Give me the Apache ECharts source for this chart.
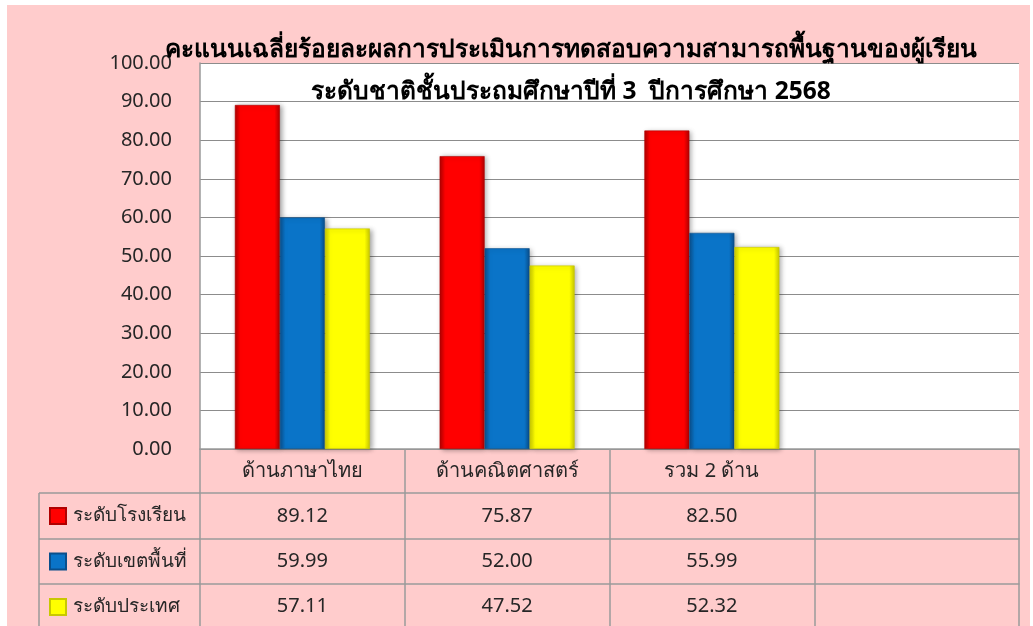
<!DOCTYPE html>
<html>
<head>
<meta charset="utf-8">
<script src="https://cdn.jsdelivr.net/npm/echarts@6/dist/echarts.min.js"></script>
<style>
  html, body { margin: 0; padding: 0; background: #fff; }
  #bg { position: absolute; left: 7px; top: 5px; width: 1023px; height: 621px; background: #ffcccc; }
  #main { position: absolute; left: 0; top: 0; width: 1033px; height: 626px; }
</style>
</head>
<body>
<div id="bg"></div>
<div id="main"></div>
<script>
const categories = ['ด้านภาษาไทย', 'ด้านคณิตศาสตร์', 'รวม 2 ด้าน', ''];
const seriesNames = ['ระดับโรงเรียน', 'ระดับเขตพื้นที่', 'ระดับประเทศ'];
const schoolScores = [89.12, 75.87, 82.50, null];
const areaScores = [59.99, 52.00, 55.99, null];
const nationScores = [57.11, 47.52, 52.32, null];
const yMin = 0, yMax = 100, yStep = 10;

const FONT = "'Noto Sans', 'DejaVu Sans', sans-serif";
const TXT = '#262626';
const LINE = '#9a9a9a';

// colour per series: [edge, face]
const barColors = [
  ['#b00000', '#ff0000'],
  ['#0a4f8c', '#0a74c8'],
  ['#c8c800', '#ffff00']
];

function fmt(v) {
  return v == null ? '' : v.toFixed(2);
}

function grad(c) {
  return new echarts.graphic.LinearGradient(0, 0, 1, 0, [
    { offset: 0, color: c[0] },
    { offset: 0.12, color: c[1] },
    { offset: 0.88, color: c[1] },
    { offset: 1, color: c[0] }
  ]);
}

// one extra x axis per table row, hung under the plot
function rowAxis(values, offset, rowH) {
  return {
    type: 'category',
    gridIndex: 0,
    position: 'bottom',
    offset: offset,
    data: values.map(fmt),
    axisLine: { show: true, onZero: false, lineStyle: { color: LINE, width: 1.5 } },
    axisTick: { show: true, interval: 0, length: rowH, lineStyle: { color: LINE, width: 1.5 } },
    axisLabel: {
      interval: 0, margin: rowH / 2, verticalAlign: 'middle',
      fontSize: 20, color: TXT, fontFamily: FONT
    },
    splitLine: { show: false }
  };
}

const chart = echarts.init(document.getElementById('main'), null, { renderer: 'canvas' });

const seriesData = [schoolScores, areaScores, nationScores];

const option = {
  backgroundColor: 'transparent',
  animation: false,
  title: {
    text: 'คะแนนเฉลี่ยร้อยละผลการประเมินการทดสอบความสามารถพื้นฐานของผู้เรียน\nระดับชาติชั้นประถมศึกษาปีที่ 3  ปีการศึกษา 2568',
    left: 566,
    top: 24,
    textAlign: 'center',
    textStyle: { fontSize: 24.5, fontWeight: 'bold', color: '#000', lineHeight: 42, fontFamily: FONT }
  },
  legend: {
    orient: 'vertical',
    left: 49,
    top: 505,
    padding: 0,
    itemWidth: 16,
    itemHeight: 16,
    itemGap: 23.5,
    icon: 'rect',
    selectedMode: false,
    textStyle: { fontSize: 19, color: TXT, lineHeight: 22, fontFamily: FONT, padding: [0, 0, 0, 2] },
    data: seriesNames
  },
  grid: {
    left: 200, top: 63, right: 14, height: 386,
    show: true, backgroundColor: '#ffffff', borderWidth: 0
  },
  xAxis: [
    {
      type: 'category',
      data: categories,
      axisLine: { show: true, lineStyle: { color: LINE, width: 1.5 } },
      axisTick: { show: true, interval: 0, length: 44, lineStyle: { color: LINE, width: 1.5 } },
      axisLabel: {
        interval: 0, margin: 22, verticalAlign: 'middle',
        fontSize: 20, color: TXT, fontFamily: FONT
      }
    },
    rowAxis(schoolScores, 44, 46),
    rowAxis(areaScores, 90, 45),
    rowAxis(nationScores, 135, 45)
  ],
  yAxis: {
    type: 'value',
    min: yMin, max: yMax, interval: yStep,
    axisLine: { show: true, lineStyle: { color: LINE, width: 1.5 } },
    axisTick: { show: false },
    axisLabel: {
      margin: 28, fontSize: 20, color: TXT, fontFamily: FONT,
      formatter: v => v.toFixed(2)
    },
    splitLine: { show: true, lineStyle: { color: '#8c8c8c', width: 1.2 } }
  },
  series: seriesNames.map((name, i) => ({
    name: name,
    type: 'bar',
    xAxisIndex: 0,
    barWidth: 45,
    barGap: '0%',
    data: seriesData[i],
    itemStyle: {
      color: grad(barColors[i]),
      borderColor: barColors[i][0],
      borderWidth: 0.6,
      shadowColor: 'rgba(0,0,0,0.35)',
      shadowBlur: 5,
      shadowOffsetX: 2,
      shadowOffsetY: 1
    }
  })),
  graphic: [
    // left label column of the data table
    { type: 'line', shape: { x1: 39, y1: 493, x2: 200, y2: 493 }, style: { stroke: LINE, lineWidth: 1.5 } },
    { type: 'line', shape: { x1: 39, y1: 539, x2: 200, y2: 539 }, style: { stroke: LINE, lineWidth: 1.5 } },
    { type: 'line', shape: { x1: 39, y1: 584, x2: 200, y2: 584 }, style: { stroke: LINE, lineWidth: 1.5 } },
    { type: 'line', shape: { x1: 39, y1: 493, x2: 39, y2: 626 }, style: { stroke: LINE, lineWidth: 1.5 } }
  ]
};

chart.setOption(option);
</script>
</body>
</html>
